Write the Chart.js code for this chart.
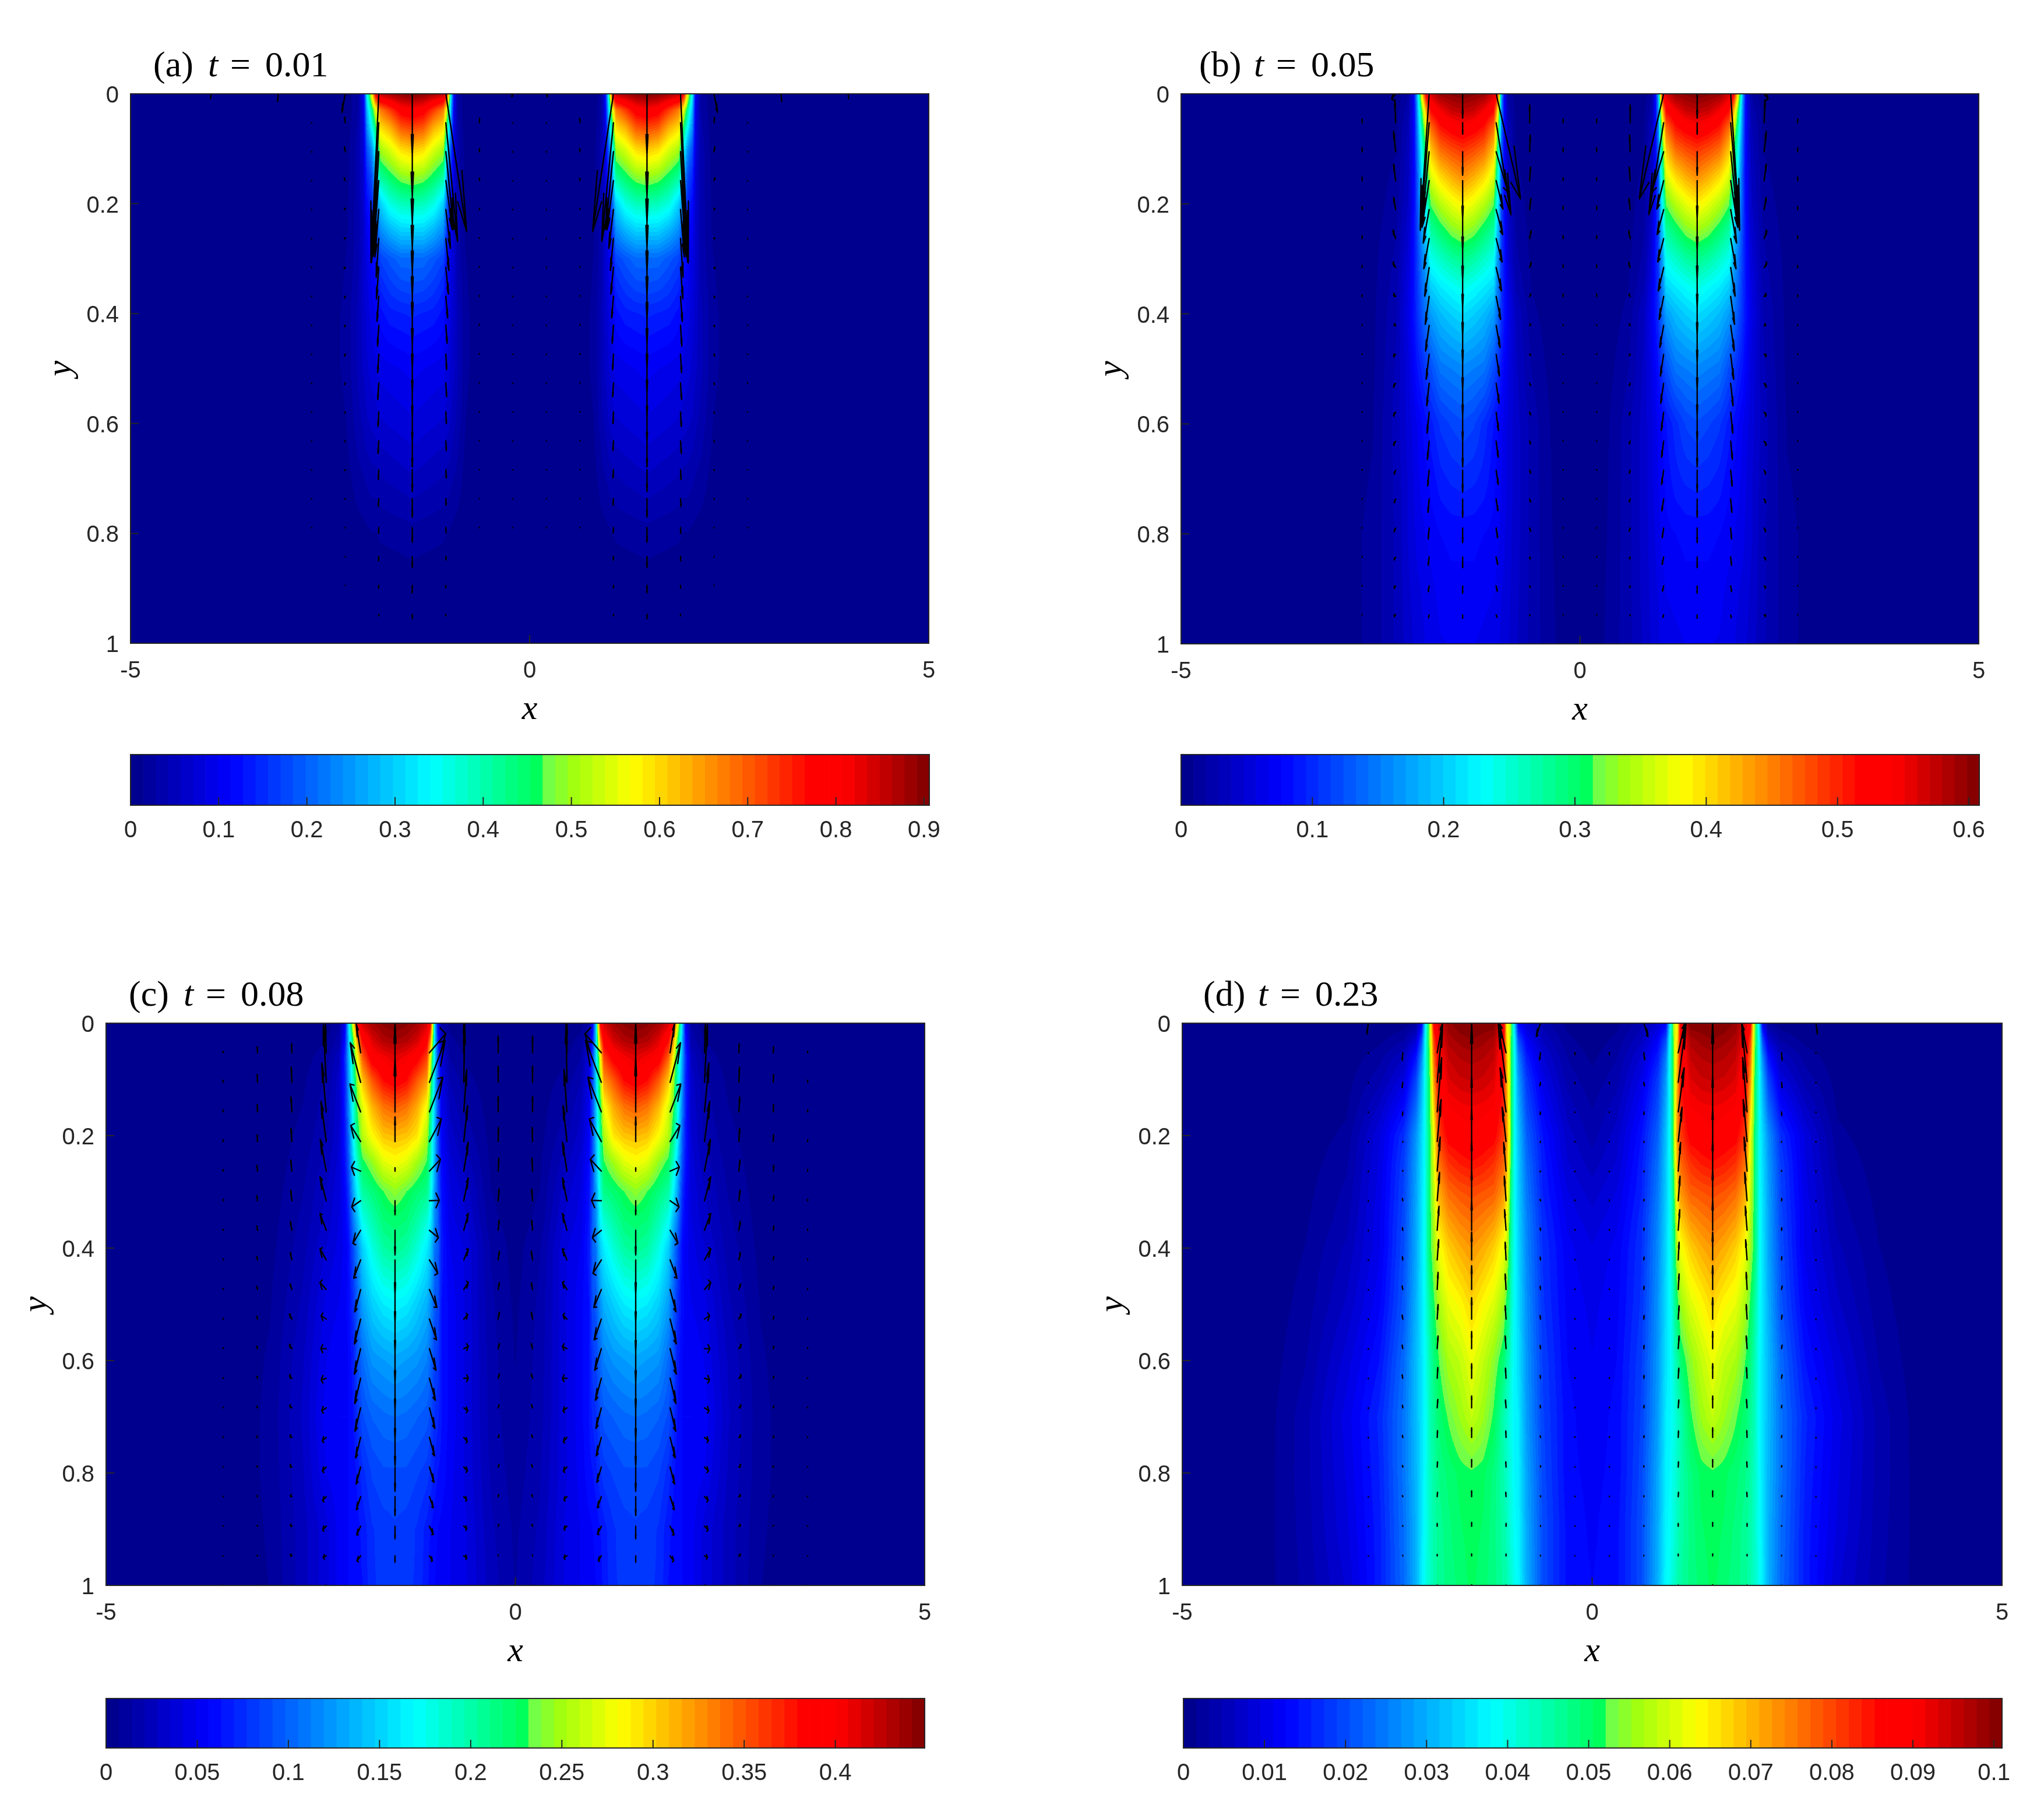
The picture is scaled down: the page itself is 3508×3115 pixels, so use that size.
<!DOCTYPE html>
<html><head><meta charset="utf-8">
<script src="https://cdn.jsdelivr.net/npm/chart.js@4"></script>
<style>html,body{margin:0;padding:0;background:#fff}body{width:3508px;height:3115px;position:relative;overflow:hidden}canvas{position:absolute}</style>
</head><body>
<script>
// ---- shared axes / grid ----
const xNodes=[0,.3,.6,.8,.9,.945,.985,1.01,1.04,1.08,1.2,1.33,1.47,1.61,1.75,1.87,1.93,1.98,2.04,2.08,2.15,2.3,2.6,3,3.5,4,5];
const yNodes=[0,.03,.06,.1,.15,.2,.25,.3,.35,.4,.5,.6,.7,.8,.9,1];
const xTickVals=[-5,0,5];
const yTickVals=[0,.2,.4,.6,.8,1];
const quiverRows=[0,.0526,.1053,.1579,.2105,.2632,.3158,.3684,.4211,.4737,.5263,.5789,.6316,.6842,.7368,.7895,.8421,.8947,.9474,1];
const Z16=[0,0,0,0,0,0,0,0,0,0,0,0,0,0,0,0];
const Z20=[0,0,0,0,0,0,0,0,0,0,0,0,0,0,0,0,0,0,0,0];
// colour map stops: [position, r, g, b]
const cmapStops=[[0,0,0,143],[.12,0,0,255],[.375,0,255,255],[.508,0,255,90],[.524,115,255,70],[.555,160,255,15],[.63,255,255,0],[.857,255,0,0],[.9,255,0,0],[1,135,0,0]];
// colourbars
const maxA=.906,maxB=.608,maxC=.449,maxD=.101;
const cbTicksA=[0,.1,.2,.3,.4,.5,.6,.7,.8,.9];
const cbTicksB=[0,.1,.2,.3,.4,.5,.6];
const cbTicksC=[0,.05,.1,.15,.2,.25,.3,.35,.4];
const cbTicksD=[0,.01,.02,.03,.04,.05,.06,.07,.08,.09,.1];
// ---- fields: one list per xNode (mirrored at x=0), one value per yNode, as a share of the colourbar range ----
const fieldA=[
Z16,Z16,
[0,0,0,0,0,0,0,0,0,.001,.001,.001,.001,.001,0,0],
[0,.002,.004,.006,.008,.01,.012,.016,.018,.02,.02,.015,.008,.002,0,0],
[.03,.03,.035,.04,.04,.04,.04,.04,.045,.05,.05,.04,.025,.008,.001,0],
[.11,.1,.09,.085,.08,.075,.07,.075,.075,.07,.065,.05,.03,.01,.002,0],
[.36,.3,.26,.2,.16,.13,.11,.095,.09,.085,.075,.06,.035,.012,.002,0],
[.62,.46,.38,.27,.2,.16,.13,.12,.11,.1,.085,.065,.04,.015,.003,0],
[.87,.6,.5,.38,.3,.23,.18,.14,.125,.11,.09,.07,.04,.015,.003,0],
[.95,.74,.66,.56,.46,.33,.26,.19,.16,.135,.1,.075,.045,.018,.004,0],
[.97,.8,.7,.6,.5,.4,.3,.21,.18,.15,.105,.08,.05,.02,.004,0],
[.99,.87,.78,.66,.54,.43,.33,.23,.195,.155,.11,.085,.055,.022,.005,0],
[1,.89,.8,.68,.555,.44,.33,.23,.2,.16,.115,.09,.06,.025,.005,0],
[.99,.87,.78,.66,.54,.43,.33,.23,.195,.155,.11,.085,.055,.022,.005,0],
[.97,.8,.7,.6,.5,.4,.3,.21,.18,.15,.105,.08,.05,.02,.004,0],
[.95,.74,.66,.56,.46,.33,.26,.19,.16,.135,.1,.075,.045,.018,.004,0],
[.87,.6,.5,.38,.3,.23,.18,.14,.125,.11,.09,.07,.04,.015,.003,0],
[.62,.46,.38,.27,.2,.16,.13,.12,.11,.1,.085,.065,.04,.015,.003,0],
[.36,.3,.26,.2,.16,.13,.11,.095,.09,.085,.075,.06,.035,.012,.002,0],
[.11,.1,.09,.085,.08,.075,.07,.075,.075,.07,.065,.05,.03,.01,.002,0],
[.03,.03,.035,.04,.04,.04,.04,.04,.045,.05,.05,.04,.025,.008,.001,0],
[0,.002,.004,.006,.008,.01,.012,.016,.018,.02,.02,.015,.008,.002,0,0],
[0,0,0,0,0,0,0,0,0,.001,.001,.001,.001,.001,0,0],
Z16,Z16,Z16,Z16];
const fieldB=[
[0,0,0,0,0,0,0,0,0,0,0,0,.002,.004,.005,.006],
[0,0,0,0,.001,.001,.002,.002,.002,.002,.005,.008,.01,.012,.014,.015],
[0,0,.001,.003,.005,.007,.009,.011,.014,.02,.03,.04,.04,.04,.04,.04],
[.005,.01,.012,.015,.02,.025,.03,.035,.045,.06,.065,.07,.07,.07,.068,.065],
[.03,.04,.05,.055,.06,.065,.075,.085,.1,.11,.1,.09,.09,.085,.083,.08],
[.12,.12,.12,.12,.125,.13,.135,.14,.14,.14,.12,.1,.1,.095,.09,.085],
[.3,.27,.25,.23,.21,.2,.19,.18,.175,.17,.14,.115,.11,.105,.095,.09],
[.65,.52,.46,.4,.355,.31,.28,.25,.23,.21,.16,.12,.115,.11,.1,.095],
[.87,.7,.6,.52,.45,.39,.33,.29,.26,.24,.18,.13,.12,.115,.105,.095],
[.93,.85,.76,.68,.6,.52,.45,.39,.34,.28,.2,.14,.13,.12,.11,.1],
[.98,.9,.84,.76,.66,.57,.49,.42,.36,.31,.24,.165,.15,.125,.115,.105],
[.99,.94,.87,.79,.7,.61,.53,.45,.38,.33,.25,.19,.16,.13,.12,.11],
[1,.95,.89,.81,.73,.64,.55,.47,.4,.345,.26,.2,.165,.13,.12,.11],
[.99,.94,.87,.79,.7,.61,.53,.45,.38,.33,.25,.19,.16,.13,.12,.11],
[.98,.9,.84,.76,.66,.57,.49,.42,.36,.31,.24,.175,.15,.125,.115,.108],
[.93,.85,.76,.68,.6,.52,.45,.39,.33,.28,.2,.15,.13,.115,.105,.1],
[.87,.7,.6,.52,.45,.39,.33,.29,.26,.24,.18,.135,.12,.11,.1,.095],
[.65,.52,.46,.4,.355,.31,.28,.25,.23,.21,.16,.125,.115,.105,.095,.09],
[.3,.27,.25,.23,.21,.2,.19,.18,.175,.17,.14,.11,.105,.1,.09,.085],
[.12,.12,.12,.12,.125,.13,.135,.14,.14,.14,.12,.1,.095,.09,.085,.08],
[.03,.04,.05,.055,.06,.065,.075,.085,.095,.1,.09,.085,.08,.08,.075,.07],
[.005,.01,.012,.015,.02,.025,.03,.035,.04,.045,.05,.055,.052,.05,.05,.05],
[0,0,.001,.003,.005,.006,.008,.01,.01,.011,.012,.014,.017,.02,.02,.02],
[0,0,0,0,0,.001,.002,.002,.003,.003,.004,.005,.006,.007,.007,.007],
Z16,Z16,Z16];
const fieldC=[
[0,.001,.002,.003,.004,.005,.006,.006,.007,.008,.012,.015,.018,.022,.028,.03],
[.001,.003,.005,.007,.008,.01,.013,.016,.02,.03,.035,.038,.04,.045,.05,.055],
[.003,.007,.012,.02,.03,.04,.055,.07,.08,.09,.09,.09,.09,.09,.095,.095],
[.01,.02,.03,.045,.06,.07,.085,.095,.1,.11,.12,.12,.12,.115,.11,.11],
[.03,.06,.09,.1,.11,.12,.13,.14,.145,.15,.14,.14,.14,.135,.12,.115],
[.12,.16,.2,.2,.2,.2,.205,.21,.22,.22,.2,.18,.16,.14,.125,.12],
[.33,.34,.35,.33,.32,.31,.3,.28,.26,.24,.21,.19,.17,.15,.13,.125],
[.63,.55,.47,.44,.41,.375,.36,.34,.32,.29,.24,.21,.18,.16,.135,.13],
[.87,.75,.63,.56,.5,.47,.44,.41,.37,.33,.27,.23,.2,.17,.14,.135],
[.93,.87,.8,.72,.62,.56,.51,.47,.41,.36,.3,.25,.21,.18,.15,.145],
[.97,.93,.87,.78,.7,.65,.55,.49,.45,.41,.33,.27,.22,.19,.17,.17],
[.99,.96,.9,.85,.75,.68,.6,.515,.485,.45,.36,.28,.23,.2,.18,.175],
[1,.97,.92,.875,.77,.69,.62,.54,.495,.465,.37,.29,.235,.2,.185,.175],
[.99,.96,.9,.85,.75,.68,.6,.515,.485,.45,.36,.28,.23,.2,.18,.175],
[.97,.92,.88,.78,.69,.63,.54,.48,.44,.4,.33,.27,.22,.19,.17,.17],
[.93,.85,.77,.68,.6,.57,.5,.45,.39,.33,.28,.23,.2,.165,.145,.14],
[.87,.72,.63,.56,.52,.48,.42,.37,.31,.26,.22,.2,.17,.145,.135,.135],
[.63,.52,.46,.43,.4,.375,.33,.29,.25,.2,.17,.15,.14,.13,.13,.13],
[.33,.3,.29,.27,.25,.22,.2,.17,.15,.13,.13,.125,.125,.125,.125,.125],
[.12,.14,.17,.16,.155,.15,.14,.125,.12,.115,.12,.12,.125,.12,.12,.12],
[.03,.04,.06,.07,.075,.08,.085,.09,.095,.1,.11,.12,.125,.12,.115,.115],
[.005,.015,.025,.035,.04,.045,.055,.065,.07,.08,.1,.11,.12,.11,.09,.09],
[.002,.005,.008,.012,.016,.02,.025,.03,.035,.04,.05,.06,.065,.06,.055,.055],
[0,0,.001,.002,.003,.004,.005,.006,.008,.01,.014,.018,.02,.02,.018,.016],
[0,0,0,0,0,0,0,0,0,0,.001,.001,.002,.002,.002,.002],
Z16,Z16];
const fieldD=[
[0,.005,.012,.02,.03,.04,.055,.07,.085,.095,.105,.11,.115,.12,.122,.125],
[.01,.02,.03,.04,.055,.07,.08,.095,.105,.115,.12,.125,.13,.13,.135,.135],
[.04,.06,.08,.1,.12,.14,.15,.155,.165,.17,.175,.185,.19,.195,.2,.2],
[.08,.12,.15,.18,.2,.22,.235,.245,.255,.26,.27,.275,.28,.29,.295,.3],
[.12,.2,.25,.28,.3,.32,.325,.33,.335,.34,.345,.35,.36,.365,.37,.375],
[.33,.37,.38,.38,.38,.38,.38,.38,.38,.38,.375,.37,.37,.375,.38,.39],
[.52,.5,.5,.5,.5,.5,.48,.46,.45,.44,.42,.4,.39,.395,.4,.41],
[.6,.6,.6,.6,.61,.62,.58,.55,.52,.5,.46,.43,.4,.405,.41,.42],
[.62,.66,.68,.7,.71,.72,.7,.66,.62,.58,.5,.45,.42,.42,.43,.44],
[.9,.87,.86,.84,.82,.8,.76,.72,.67,.62,.55,.49,.44,.44,.445,.45],
[1,.96,.94,.92,.89,.86,.81,.77,.72,.67,.6,.54,.51,.48,.475,.475],
[1,.975,.955,.935,.9,.87,.83,.78,.74,.7,.63,.58,.55,.505,.498,.49],
[1,.985,.96,.94,.905,.885,.84,.79,.755,.72,.665,.615,.58,.512,.508,.505],
[1,.975,.955,.935,.9,.87,.83,.78,.74,.7,.63,.58,.55,.505,.498,.49],
[.98,.96,.94,.92,.89,.86,.81,.76,.715,.67,.61,.56,.52,.49,.48,.475],
[.93,.9,.88,.86,.83,.8,.75,.7,.66,.62,.56,.515,.49,.47,.46,.46],
[.87,.8,.76,.72,.67,.62,.6,.58,.565,.55,.51,.48,.46,.45,.445,.44],
[.56,.55,.54,.52,.51,.5,.5,.5,.5,.5,.46,.44,.435,.425,.42,.42],
[.33,.36,.37,.38,.38,.38,.38,.385,.39,.39,.385,.38,.375,.38,.385,.39],
[.11,.2,.26,.3,.32,.34,.345,.35,.35,.355,.355,.35,.35,.35,.355,.36],
[.02,.08,.14,.19,.23,.27,.28,.285,.29,.29,.3,.31,.31,.305,.3,.3],
[.005,.03,.06,.09,.13,.17,.185,.19,.195,.2,.21,.23,.24,.24,.235,.23],
[.001,.01,.025,.04,.065,.09,.095,.1,.105,.105,.12,.14,.16,.155,.15,.15],
[0,.001,.004,.008,.012,.02,.028,.035,.04,.05,.065,.085,.1,.095,.09,.08],
[0,0,0,.001,.002,.004,.007,.01,.013,.016,.022,.03,.04,.04,.038,.035],
[0,0,0,0,0,0,0,.001,.001,.002,.003,.004,.006,.007,.008,.008],
Z16];
// ---- velocity arrows: [column x, U per row, V per row], mirrored at x=0 ----
const quiverA=[
[.21,[4,0,0,0,0,0,0,0,0,0,0,0,0,0,0,0,0,0,0,0],[15,2,2,2,2,2,2,2,2,2,1,1,1,1,1,1,0,0,0,0]],
[.63,[0,-1,-1,-1,-1,0,0,0,0,0,0,0,0,0,0,0,0,0,0,0],[0,-22,-15,-12,-5,-3,-3,-3,-5,-3,-2,-2,-2,-1,-1,-1,0,0,0,0]],
[1.05,[-80,-45,-30,-25,-18,-12,-10,-7,-5,-3,-3,-2,-2,-2,-1,-1,-1,0,0,0],[708,610,400,253,200,165,138,112,92,80,70,60,50,42,33,25,18,12,7,2]],
[1.47,Z20,[313,380,365,345,320,295,270,250,222,200,178,155,135,112,95,75,55,38,22,6]],
[1.89,[30,28,22,18,15,10,9,7,5,4,4,3,3,2,2,1,1,1,0,0],[870,719,540,310,245,200,162,130,107,95,85,75,65,50,40,30,22,14,8,3]],
[2.31,[13,2,3,4,3,3,4,3,2,2,2,1,1,1,1,0,0,0,0,0],[95,-28,-25,-14,-5,0,5,8,8,10,8,6,5,4,3,2,2,1,0,0]],
[2.73,Z20,[0,2,2,2,2,2,2,2,2,2,2,1,1,1,1,1,0,0,0,0]],
[3.15,[2,0,0,0,0,0,0,0,0,0,0,0,0,0,0,0,0,0,0,0],[40,0,0,0,0,0,0,0,0,0,0,0,0,0,0,0,0,0,0,0]],
[3.99,[2,0,0,0,0,0,0,0,0,0,0,0,0,0,0,0,0,0,0,0],[25,0,0,0,0,0,0,0,0,0,0,0,0,0,0,0,0,0,0,0]]];
const quiverB=[
[.21,Z20,[0,-19,-19,-15,-17,-15,-13,-12,-3,-2,-2,-2,-2,-2,-2,-2,-2,-2,-2,-1]],
[.63,[0,0,-2,-3,-4,-5,-5,-4,-3,-3,-3,-3,-3,-3,-3,-3,-2,-2,-1,0],[0,-91,-86,-70,-57,-40,-26,-12,-7,3,12,13,13,15,15,15,10,7,4,1]],
[1.05,[-82,-50,-40,-23,-22,-20,-18,-15,-13,-11,-10,-8,-7,-7,-6,-5,-5,-4,-3,-1],[540,473,208,146,128,120,120,118,113,111,102,94,82,73,60,50,38,27,12,3]],
[1.47,Z20,[125,59,121,195,210,210,205,200,190,180,165,150,132,113,93,75,55,37,17,4]],
[1.89,[30,28,25,24,20,18,15,13,12,10,8,7,6,5,4,3,3,3,2,1],[702,530,370,240,172,155,147,143,131,128,115,107,94,81,68,56,42,29,14,4]],
[2.31,[13,3,7,7,7,9,9,7,5,7,7,7,7,5,5,5,5,5,5,1],[27,-119,-103,-85,-62,-43,-26,-12,-5,8,18,18,20,20,18,18,14,10,5,1]],
[2.73,Z20,[0,-19,-20,-18,-15,-14,-10,-8,-3,-2,-2,-2,-2,-2,-2,-2,-2,-2,-2,-1]]];
const quiverC=[
[.21,[0,0,0,0,-1,-2,-3,-3,-4,-4,-4,-4,-4,-3,-3,-3,-2,-2,0,0],[0,-86,-84,-79,-72,-67,-60,-52,-44,-35,-35,-25,-22,-15,-12,-12,-10,-9,-4,-1]],
[.63,[0,0,-3,-10,-13,-15,-15,-15,-15,-15,-13,-15,-15,-13,-12,-12,-10,-10,-10,-2],[0,-147,-300,-219,-185,-149,-117,-86,-57,-37,-22,-12,0,15,22,20,17,14,10,2]],
[1.05,[0,-55,-53,-45,-40,-37,-33,-30,-28,-25,-24,-22,-20,-18,-17,-15,-13,-13,-10,-3],[0,-98,-216,-179,-116,-61,-2,38,69,92,107,111,113,105,95,78,57,42,25,8]],
[1.47,Z20,[0,-149,-302,-277,-127,-17,72,127,175,170,165,170,160,160,145,125,97,65,33,10]],
[1.89,[0,15,35,36,33,31,30,26,23,20,21,21,20,19,17,15,14,13,12,5],[0,-149,-204,-144,-82,-21,32,67,94,115,128,131,130,120,105,87,67,45,26,10]],
[2.31,[0,3,10,15,18,20,21,21,21,21,17,18,17,15,13,13,12,12,10,3],[0,-147,-296,-251,-207,-163,-123,-86,-57,-37,-18,0,8,15,17,20,20,18,8,2]],
[2.73,[0,1,2,3,3,4,4,5,5,6,8,8,8,7,6,6,5,5,5,1],[0,-46,-78,-76,-67,-57,-54,-46,-38,-29,-25,-20,-15,-12,-10,-10,-8,-7,-6,-1]],
[3.15,[0,1,1,1,1,2,2,2,2,2,2,2,2,2,2,1,1,1,1,0],[0,-30,-40,-38,-34,-30,-26,-22,-18,-16,-14,-12,-10,-8,-7,-6,-5,-4,-3,-1]],
[3.57,Z20,[0,-8,-10,-10,-9,-8,-7,-6,-5,-5,-4,-4,-3,-3,-3,-2,-2,-2,-1,-1]]];
const quiverD=[
[.21,Z20,[0,10,7,3,3,3,-3,-3,-3,-3,-3,-3,-3,-3,-3,-2,-2,-2,-1,-1]],
[.63,[14,3,2,1,1,1,1,1,1,1,1,1,1,1,1,0,0,0,0,0],[68,36,18,13,4,3,-6,-11,-14,-16,-18,-16,-14,-12,-8,-6,-4,-3,-2,-1]],
[1.05,[0,22,26,20,13,8,6,5,3,3,3,3,2,2,1,1,1,0,0,0],[0,-150,-300,-227,-176,-148,-126,-106,-91,-80,-68,-65,-52,-41,-33,-27,-22,-14,-8,-2]],
[1.47,Z20,[0,-150,-300,-190,-170,-158,-160,-155,-143,-123,-110,-88,-75,-61,-50,-39,-30,-19,-10,-3]],
[1.89,[0,-17,-18,-15,-13,-10,-8,-6,-5,-3,-3,-3,-2,-2,-1,-1,-1,0,0,0],[0,-147,-300,-280,-216,-175,-146,-123,-104,-88,-75,-65,-55,-43,-35,-27,-22,-14,-7,-2]],
[2.31,[0,2,2,1,0,0,1,1,1,2,2,2,2,1,1,1,1,0,0,0],[0,39,27,18,3,-3,-11,-13,-16,-18,-20,-18,-17,-13,-10,-7,-5,-3,-2,-1]],
[2.73,[5,0,0,0,0,0,0,0,0,0,0,0,0,0,0,0,0,0,0,0],[55,3,3,3,3,3,3,3,3,3,3,3,3,3,3,2,2,2,1,1]]];
// panel labels
const titlesA=['(a)','t','=','0.01'],titlesB=['(b)','t','=','0.05'],titlesC=['(c)','t','=','0.08'],titlesD=['(d)','t','=','0.23'];

// ---- drawing ----
const TICK='#262626';
const SANS='"Liberation Sans",Arial,sans-serif',SERIF='"Liberation Serif",serif';
function cmap(i){const t=i/63;let k=0;while(k<cmapStops.length-2&&t>cmapStops[k+1][0])k++;const a=cmapStops[k],b=cmapStops[k+1],w=(t-a[0])/(b[0]-a[0]);return [0,1,2].map(c=>Math.round(a[c+1]+(b[c+1]-a[c+1])*w));}
const colours=Array.from({length:64},(_,i)=>cmap(i));
function locate(nodes,v){let k=0;while(k<nodes.length-2&&v>nodes[k+1])k++;return [k,Math.max(0,Math.min(1,(v-nodes[k])/(nodes[k+1]-nodes[k])))];}

const contourPlugin={id:'contour',beforeDatasetsDraw(c){
  const field=c.options.plugins.contour.field;if(!field)return;
  const a=c.chartArea,X=c.scales.x,Y=c.scales.y,L=Math.round(a.left),T=Math.round(a.top),W=Math.round(a.right)-L,H=Math.round(a.bottom)-T;
  const cols=[],rows=[];
  for(let i=0;i<W;i++)cols.push(locate(xNodes,Math.abs(X.getValueForPixel(L+i+.5))));
  for(let j=0;j<H;j++)rows.push(locate(yNodes,Y.getValueForPixel(T+j+.5)));
  const img=c.ctx.createImageData(W,H),d=img.data;let p=0;
  for(let j=0;j<H;j++){const [r,rw]=rows[j];
    for(let i=0;i<W;i++){const [k,kw]=cols[i];const f0=field[k],f1=field[k+1];
      const v=(f0[r]*(1-rw)+f0[r+1]*rw)*(1-kw)+(f1[r]*(1-rw)+f1[r+1]*rw)*kw;
      const col=colours[Math.min(63,Math.floor(v*64))];
      d[p++]=col[0];d[p++]=col[1];d[p++]=col[2];d[p++]=255;}}
  c.ctx.putImageData(img,L,T);
},afterDatasetsDraw(c){
  const o=c.options.plugins.contour;if(!o.field)return;
  const ctx=c.ctx,a=c.chartArea,X=c.scales.x,Y=c.scales.y;
  ctx.save();ctx.beginPath();ctx.rect(a.left,a.top,a.right-a.left,a.bottom-a.top);ctx.clip();
  ctx.strokeStyle='#000';ctx.lineWidth=2.4;ctx.lineJoin='round';ctx.lineCap='round';
  const line=(x0,y0,x1,y1)=>{ctx.moveTo(X.getPixelForValue(x0),Y.getPixelForValue(y0));ctx.lineTo(X.getPixelForValue(x1),Y.getPixelForValue(y1));};
  ctx.beginPath();
  c.data.datasets[0].data.forEach(q=>{
    if(!q.u&&!q.v)return;
    const tx=q.x+q.u,ty=q.y+q.v,al=.33,be=.33;
    line(q.x,q.y,tx,ty);
    line(tx-al*(q.u+be*q.v),ty-al*(q.v-be*q.u),tx,ty);
    line(tx-al*(q.u-be*q.v),ty-al*(q.v+be*q.u),tx,ty);
  });
  ctx.stroke();ctx.restore();
}};
const framePlugin={id:'frame',afterDraw(c){
  const ctx=c.ctx,a=c.chartArea,o=c.options.plugins.frame;
  ctx.save();ctx.strokeStyle=TICK;ctx.lineWidth=2;
  ctx.strokeRect(a.left,a.top,a.right-a.left,a.bottom-a.top);
  ctx.beginPath();
  c.scales.x.ticks.forEach(t=>{const p=c.scales.x.getPixelForValue(t.value);ctx.moveTo(p,a.bottom);ctx.lineTo(p,a.bottom-14);});
  if(o.yTicks)c.scales.y.ticks.forEach(t=>{const p=c.scales.y.getPixelForValue(t.value);ctx.moveTo(a.left,p);ctx.lineTo(a.left+14,p);});
  ctx.stroke();
  if(o.title){const b=a.left+o.titleX,y=a.top-30;ctx.fillStyle='#000';ctx.textBaseline='alphabetic';ctx.textAlign='left';
    const off=[0,94,132,192];
    o.title.forEach((s,i)=>{ctx.font=(i===1?'italic ':'')+'62px '+SERIF;ctx.fillText(s,b+off[i],y);});}
  ctx.restore();
}};
Chart.register(contourPlugin,framePlugin);
Chart.defaults.animation=false;

function mk(x,y,w,h){const cv=document.createElement('canvas');cv.width=w;cv.height=h;cv.style.left=x+'px';cv.style.top=y+'px';cv.style.width=w+'px';cv.style.height=h+'px';document.body.appendChild(cv);return cv;}
const fmt=v=>String(v);
function panel(g,field,quiver,su,sv,title){
  const WL=160,TP=100,RP=60,HB=150;
  const cv=mk(g.L-WL,g.T-TP,g.R-g.L+WL+RP,g.B-g.T+TP+HB);
  const pts=[];
  quiver.forEach(([cx,U,V])=>{quiverRows.forEach((ry,j)=>{[1,-1].forEach(s=>pts.push({x:s*cx,y:ry,u:s*U[j]*su,v:V[j]*sv}));});});
  new Chart(cv,{type:'scatter',data:{datasets:[{label:'velocity',data:pts,pointRadius:0,showLine:false}]},
    options:{responsive:false,devicePixelRatio:1,animation:false,
      layout:{padding:{top:TP,right:RP,left:0,bottom:0}},
      plugins:{legend:{display:false},tooltip:{enabled:false},contour:{field},frame:{yTicks:true,title,titleX:g.tx}},
      scales:{
        x:{type:'linear',min:-5,max:5,grid:{display:false,drawTicks:false},border:{display:false},
          afterBuildTicks:s=>{s.ticks=xTickVals.map(v=>({value:v}));},afterFit:s=>{s.height=HB;},
          ticks:{autoSkip:false,maxRotation:0,padding:24,color:TICK,font:{family:SANS,size:40},callback:fmt},
          title:{display:true,text:'x',color:'#000',padding:{top:10,bottom:0},font:{family:SERIF,size:60,style:'italic'}}},
        y:{type:'linear',reverse:true,min:0,max:1,grid:{display:false,drawTicks:false},border:{display:false},
          afterBuildTicks:s=>{s.ticks=yTickVals.map(v=>({value:v}));},afterFit:s=>{s.width=WL;},
          ticks:{autoSkip:false,padding:20,labelOffset:4,color:TICK,font:{family:SANS,size:40},callback:fmt},
          title:{display:true,text:'y',color:'#000',padding:{top:5,bottom:0},font:{family:SERIF,size:60,style:'italic'}}}
      }}});
}
function colourbar(g,vmax,tickVals){
  const PAD=60,HB=90;
  const cv=mk(g.L-PAD,g.T-10,g.R-g.L+2*PAD,g.B-g.T+10+HB);
  const ds=colours.map((c,i)=>({label:'L'+i,data:[[i*vmax/64,(i+1)*vmax/64]],backgroundColor:`rgb(${c[0]},${c[1]},${c[2]})`,borderWidth:0,barPercentage:1,categoryPercentage:1,grouped:false}));
  new Chart(cv,{type:'bar',data:{labels:['value'],datasets:ds},
    options:{indexAxis:'y',responsive:false,devicePixelRatio:1,animation:false,
      layout:{padding:{top:10,left:PAD,right:PAD,bottom:0}},
      plugins:{legend:{display:false},tooltip:{enabled:false},contour:{},frame:{yTicks:false}},
      scales:{
        x:{type:'linear',min:0,max:vmax,grid:{display:false,drawTicks:false},border:{display:false},
          afterBuildTicks:s=>{s.ticks=tickVals.map(v=>({value:v}));},afterFit:s=>{s.height=HB;},
          ticks:{autoSkip:false,maxRotation:0,padding:20,color:TICK,font:{family:SANS,size:40},callback:fmt}},
        y:{display:false,stacked:true}
      }}});
}
const SUA=1/307,SUB=1/268.5,SUC=1/275.4,SVA=1/2829,SVC=1/2895;
panel({L:224,R:1594,T:161,B:1104,tx:39},fieldA,quiverA,SUA,SVA,titlesA);
panel({L:2027,R:3396,T:161,B:1105,tx:31},fieldB,quiverB,SUB,SVA,titlesB);
panel({L:182,R:1587,T:1756,B:2721,tx:39},fieldC,quiverC,SUC,SVC,titlesC);
panel({L:2029,R:3436,T:1756,B:2721,tx:36},fieldD,quiverD,SUC,SVC,titlesD);
colourbar({L:224,R:1595,T:1295,B:1382},maxA,cbTicksA);
colourbar({L:2027,R:3397,T:1295,B:1382},maxB,cbTicksB);
colourbar({L:182,R:1587,T:2915,B:3000},maxC,cbTicksC);
colourbar({L:2031,R:3436,T:2915,B:3000},maxD,cbTicksD);
</script>
</body></html>
